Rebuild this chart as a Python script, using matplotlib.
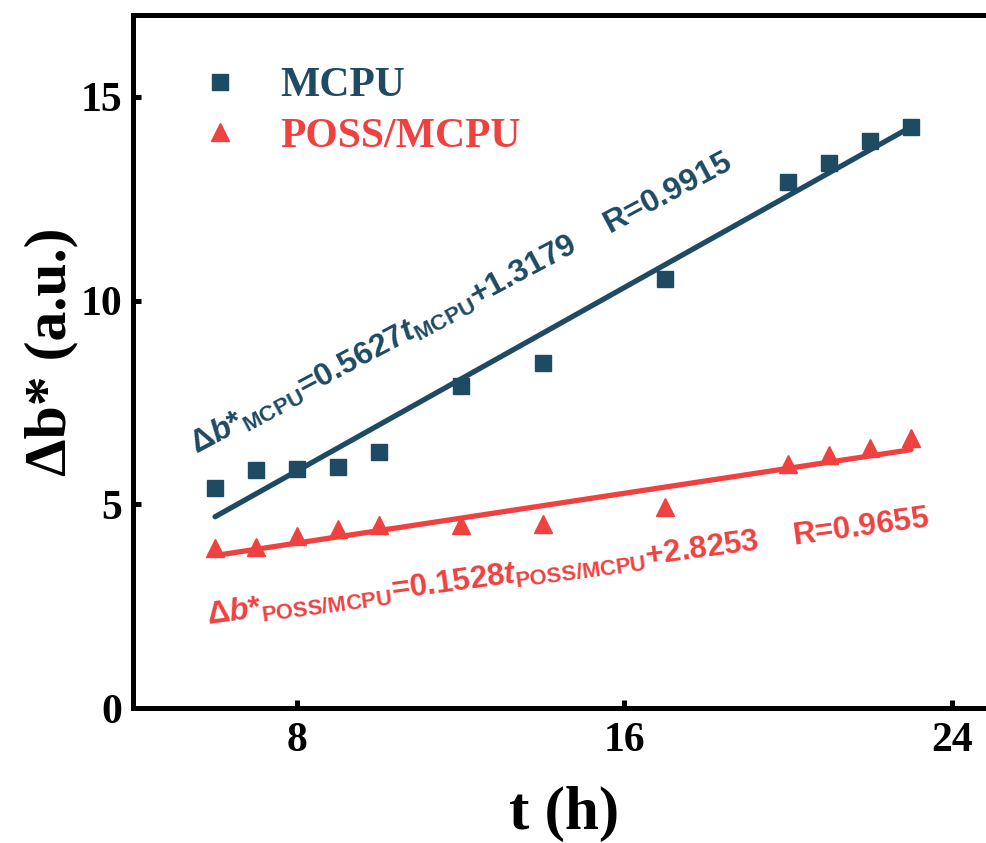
import matplotlib
matplotlib.use("Agg")
import matplotlib.pyplot as plt
import numpy as np

# Colour shift data (Δb*) vs ageing time
t_h = [6, 7, 8, 9, 10, 12, 14, 17, 20, 21, 22, 23]
db_mcpu = [5.39, 5.84, 5.87, 5.91, 6.29, 7.91, 8.47, 10.53, 12.92, 13.38, 13.92, 14.27]
db_poss = [3.92, 3.96, 4.23, 4.39, 4.50, 4.50, 4.52, 4.94, 6.00, 6.21, 6.37, 6.63]

# linear fits (slope, intercept, R)
fit_mcpu = (0.5627, 1.3179, 0.9915)
fit_poss = (0.1528, 2.8253, 0.9655)

x_ticks = [8, 16, 24]
y_ticks = [0, 5, 10, 15]

BLUE = "#1E4A62"
RED = "#EF4140"

plt.rcParams["mathtext.fontset"] = "custom"
plt.rcParams["mathtext.rm"] = "Liberation Sans:bold"
plt.rcParams["mathtext.it"] = "Liberation Sans:italic:bold"
plt.rcParams["mathtext.bf"] = "Liberation Sans:bold"

fig = plt.figure(figsize=(9.86, 8.43), dpi=100)
ax = fig.add_axes([0.1351, 0.1601, 0.8719, 0.8218])

ax.plot(t_h, db_mcpu, "s", ls="none", ms=11, color=BLUE, label="MCPU")
ax.plot(t_h, db_poss, "^", ls="none", ms=13, color=RED, label="POSS/MCPU")

tt = np.array([t_h[0], t_h[-1]])
ax.plot(tt, fit_mcpu[0] * tt + fit_mcpu[1], color=BLUE, lw=3.8, solid_capstyle="round")
ax.plot(tt, fit_poss[0] * tt + fit_poss[1], color=RED, lw=3.8, solid_capstyle="round")

ax.set_xlim(4, 25)
ax.set_ylim(0, 17)
ax.set_xticks(x_ticks)
ax.set_yticks(y_ticks)

for s in ax.spines.values():
    s.set_linewidth(3.6)
ax.tick_params(direction="in", length=6, width=3.6, top=False, right=False)
ax.tick_params(axis="x", pad=10)
ax.tick_params(axis="y", pad=8)
for lab in ax.get_xticklabels() + ax.get_yticklabels():
    lab.set_fontfamily("Liberation Serif")
    lab.set_fontweight("bold")
    lab.set_fontsize(30)

ax.set_xlabel("t (h)", fontfamily="Liberation Serif", fontweight="bold", fontsize=44)
ax.set_ylabel("Δb* (a.u.)", fontfamily="Liberation Serif", fontweight="bold", fontsize=43)
ax.xaxis.set_label_coords(0.501, -0.113)
ax.yaxis.set_label_coords(-0.064, 0.514)

leg = ax.legend(loc="upper left", bbox_to_anchor=(0.0765, 0.925), frameon=False,
                borderpad=0, borderaxespad=0, handlelength=1.0, handletextpad=0.94,
                labelspacing=0.3, numpoints=1,
                prop={"family": "Liberation Serif", "weight": "bold", "size": 30})
for txt, c in zip(leg.get_texts(), [BLUE, RED]):
    txt.set_color(c)

eq_mcpu = (r"Δ$\mathit{b}$*$_{\rm MCPU}$=0.5627$\mathit{t}_{\rm MCPU}$+1.3179"
           f"    R={fit_mcpu[2]:.4f}")
eq_poss = (r"Δ$\mathit{b}$*$_{\rm POSS/MCPU}$=0.1528$\mathit{t}_{\rm POSS/MCPU}$+2.8253"
           f"    R={fit_poss[2]:.4f}")
ax.text(5.56, 6.22, eq_mcpu, color=BLUE, fontsize=23, fontfamily="Liberation Sans",
        fontweight="bold", rotation=28, rotation_mode="anchor",
        ha="left", va="baseline")
ax.text(5.83, 2.06, eq_poss, color=RED, fontsize=22.5, fontfamily="Liberation Sans",
        fontweight="bold", rotation=7.7, rotation_mode="anchor",
        ha="left", va="baseline")

fig.savefig("out.png", dpi=100)
